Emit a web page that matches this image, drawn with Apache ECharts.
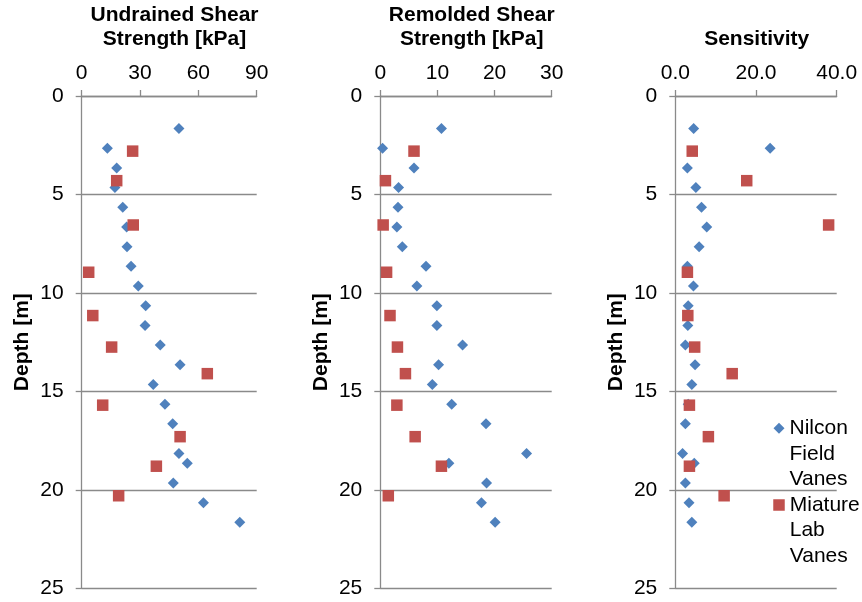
<!DOCTYPE html>
<html>
<head>
<meta charset="utf-8">
<script src="https://cdn.jsdelivr.net/npm/echarts@6/dist/echarts.min.js"></script>
<style>
html,body{margin:0;padding:0;background:#fff;}
#chart{width:862px;height:602px;}
</style>
</head>
<body>
<div id="chart"></div>
<script>
// ---- Data ----
const fieldDepth = [1.65,2.65,3.65,4.65,5.65,6.65,7.65,8.65,9.65,10.65,11.65,12.65,13.65,14.65,15.65,16.65,18.15,18.65,19.65,20.65,21.65];
const fieldUndrained = [50,13.2,18,17.1,21.1,23.1,23.3,25.4,29.1,32.9,32.6,40.4,50.6,36.8,42.8,46.8,50,54.3,47.1,62.6,81.3];
const fieldRemolded = [10.7,0.4,5.9,3.2,3.1,2.9,3.85,8,6.4,9.9,9.9,14.4,10.2,9.1,12.5,18.5,25.6,12,18.6,17.7,20.1];
const fieldSensitivity = [4.55,23.5,3,5.1,6.5,7.8,5.9,3,4.5,3.2,3.1,2.5,4.9,4.1,3.2,2.5,1.8,4.7,2.5,3.4,4.1];

const labDepth = [2.8,4.3,6.55,8.95,11.15,12.75,14.1,15.7,17.3,18.8,20.3];
const labUndrained = [26.2,18,26.5,3.6,5.7,15.4,64.6,10.8,50.6,38.4,19];
const labRemolded = [5.9,0.9,0.5,1.1,1.7,3,4.4,2.9,6.1,10.7,1.4];
const labSensitivity = [4.2,17.7,38,3,3.1,4.8,14.1,3.5,8.2,3.5,12.1];

const panelTitles = ['Undrained Shear\nStrength [kPa]', 'Remolded Shear\nStrength [kPa]', 'Sensitivity'];
const xMax = [90, 30, 40];
const xInterval = [30, 10, 20];
const depthMax = 25, depthInterval = 5;
const depthName = 'Depth [m]';
const seriesNames = ['Nilcon Field Vanes', 'Miature Lab Vanes'];

// ---- Layout / style ----
const FONT = 'Liberation Sans, Arial, sans-serif';
const GRAY = '#8a8a8a';
const BLUE = '#4F81BD', RED = '#C0504D';
const grids = [
  {left: 81.7, top: 96, width: 175, height: 492.3},
  {left: 380.3, top: 96, width: 171.4, height: 492.3},
  {left: 675.3, top: 96, width: 161.4, height: 492.3}
];
const titleCenters = [174.5, 471.7, 756.7];

function zip(xs, ys){ return xs.map((x,i)=>[x, ys[i]]); }
const fieldSets = [fieldUndrained, fieldRemolded, fieldSensitivity];
const labSets = [labUndrained, labRemolded, labSensitivity];

const xAxes = [], yAxes = [], series = [], titles = [];
for (let i = 0; i < 3; i++) {
  xAxes.push({
    gridIndex: i, type: 'value', position: 'top', min: 0, max: xMax[i], interval: xInterval[i],
    axisLine: {show: true, lineStyle: {color: GRAY, width: 1.3}},
    axisTick: {show: true, inside: false, length: 6, lineStyle: {color: GRAY, width: 1.3}},
    splitLine: {show: false},
    axisLabel: {color: '#000', fontSize: 21, fontFamily: FONT, margin: 12,
      formatter: i === 2 ? (v => v.toFixed(1)) : (v => String(v))}
  });
  yAxes.push({
    gridIndex: i, type: 'value', inverse: true, min: 0, max: depthMax, interval: depthInterval,
    name: depthName, nameLocation: 'middle', nameGap: 49, nameRotate: 90,
    nameTextStyle: {color: '#000', fontSize: 21, fontWeight: 'bold', fontFamily: FONT},
    axisLine: {show: true, onZero: false, lineStyle: {color: GRAY, width: 1.3}},
    axisTick: {show: true, inside: false, length: 6, lineStyle: {color: GRAY, width: 1.3}},
    splitLine: {show: true, lineStyle: {color: GRAY, width: 1.3}},
    axisLabel: {color: '#000', fontSize: 21, fontFamily: FONT, margin: 18}
  });
  series.push({
    name: seriesNames[0], type: 'scatter', xAxisIndex: i, yAxisIndex: i,
    symbol: 'diamond', symbolSize: 11, itemStyle: {color: BLUE, opacity: 1},
    data: zip(fieldSets[i], fieldDepth), z: 2
  });
  series.push({
    name: seriesNames[1], type: 'scatter', xAxisIndex: i, yAxisIndex: i,
    symbol: 'rect', symbolSize: 11.5, itemStyle: {color: RED, opacity: 1},
    data: zip(labSets[i], labDepth), z: 3
  });
  titles.push({
    text: panelTitles[i], left: titleCenters[i], top: i === 2 ? 27 : 3, textAlign: 'center', padding: 0,
    textStyle: {color: '#000', fontSize: 21, fontWeight: 'bold', fontFamily: FONT, lineHeight: 24}
  });
}

const LH = 25.5;
function legendFor(name, iconCenterY, size) {
  return {
    data: [name], orient: 'vertical', left: 779 - size / 2, top: iconCenterY - (LH * 5) / 2,
    padding: 0, itemWidth: size, itemHeight: size, itemGap: 0,
    // two blank leading lines so the first word sits level with the marker
    formatter: n => '\n\n' + n.replace(/ /g, '\n'),
    textStyle: {color: '#000', fontSize: 21, fontFamily: FONT, lineHeight: LH}
  };
}

const option = {
  animation: false,
  backgroundColor: '#fff',
  title: titles,
  grid: grids,
  xAxis: xAxes,
  yAxis: yAxes,
  legend: [legendFor(seriesNames[0], 428.3, 11), legendFor(seriesNames[1], 505, 11.5)],
  series: series
};
const chart = echarts.init(document.getElementById('chart'), null, {renderer: 'canvas'});
chart.setOption(option);
</script>
</body>
</html>
